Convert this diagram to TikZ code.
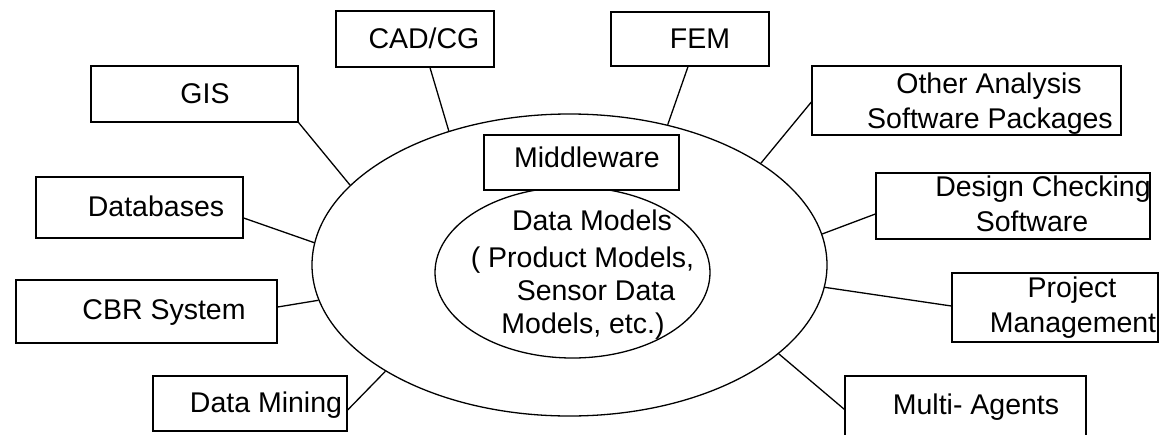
\documentclass[tikz,border=0pt]{standalone}
\usepackage{fontspec}
\setmainfont{Liberation Sans}
\usetikzlibrary{shapes.geometric}
\begin{document}
\begin{tikzpicture}[x=1pt,y=-1pt,
  every node/.style={line width=1.3pt},
  box/.style={draw, rectangle, inner sep=0pt, line width=1.3pt},
  oval/.style={draw, ellipse, inner sep=0pt, line width=1.3pt},
  txt/.style={anchor=base, inner sep=0pt, font=\fontsize{28.5pt}{34pt}\selectfont},
  link/.style={line width=1.3pt}]
\useasboundingbox (0,0) rectangle (1162,434);
\fill[white] (0,0) rectangle (1162,434);
\clip (0,0) rectangle (1162,434);

% central ellipses
\node[oval, minimum width=515pt, minimum height=302pt] (outer) at (569.5,265) {};
\node[oval, minimum width=275pt, minimum height=171pt] (inner) at (572.5,272.5) {};
\node[txt] (t-dm1) at (592,230) {Data Models};
\node[txt] (t-dm2) at (582.5,267) {( Product Models,};
\node[txt] (t-dm3) at (596,300) {Sensor Data};
\node[txt] (t-dm4) at (583,333) {Models, etc.)};

% middleware
\node[box, fill=white, minimum width=195pt, minimum height=55pt] (mw) at (581.5,162.5) {};
\node[txt] (t-mw) at (587,167) {Middleware};

% surrounding boxes
\node[box, minimum width=158pt, minimum height=56pt] (cad) at (415,39) {};
\node[txt] (t-cad) at (424,48) {CAD/CG};
\node[box, minimum width=158pt, minimum height=54pt] (fem) at (690,39) {};
\node[txt] (t-fem) at (700,48) {FEM};
\node[box, minimum width=207pt, minimum height=56pt] (gis) at (194.5,94) {};
\node[txt] (t-gis) at (205,103) {GIS};
\node[box, minimum width=309pt, minimum height=69pt] (other) at (966.5,100.5) {};
\node[txt] (t-other1) at (989,93) {Other Analysis};
\node[txt] (t-other2) at (990,128) {Software Packages};
\node[box, minimum width=207pt, minimum height=61pt] (db) at (139.5,207.5) {};
\node[txt] (t-db) at (156,216) {Databases};
\node[box, minimum width=274pt, minimum height=66pt] (design) at (1013,206) {};
\node[txt] (t-design1) at (1043,196) {Design Checking};
\node[txt] (t-design2) at (1032,231) {Software};
\node[box, minimum width=261pt, minimum height=63pt] (cbr) at (146.5,311.5) {};
\node[txt] (t-cbr) at (164,319) {CBR System};
\node[box, minimum width=206pt, minimum height=69pt] (pm) at (1055,307.5) {};
\node[txt] (t-pm1) at (1072,297) {Project};
\node[txt] (t-pm2) at (1073,332) {Management};
\node[box, minimum width=194pt, minimum height=55pt] (dmin) at (250,403.5) {};
\node[txt] (t-dmin) at (266,412) {Data Mining};
\node[box, minimum width=241pt, minimum height=74pt] (ma) at (965.5,413) {};
\node[txt] (t-ma) at (976,414) {Multi- Agents};

% connectors
\draw[link] ([xshift=15pt]cad.south) -- (outer.132.4);
\draw[link] (gis.south east) -- (outer.160.8);
\draw[link] ([yshift=-10.5pt]db.east) -- (outer.175.5);
\draw[link] ([yshift=4.5pt]cbr.east) -- (outer.188.2);
\draw[link] ([yshift=-6.5pt]dmin.east) -- (outer.210.4);
\draw[link] ([xshift=-2pt]fem.south) -- (outer.55.7);
\draw[link] ([yshift=-1.5pt]other.west) -- (outer.28.5);
\draw[link] ([yshift=-8pt]design.west) -- (outer.7.7);
\draw[link] ([yshift=1.5pt]pm.west) -- (outer.-5.8);
\draw[link] ([yshift=-34pt]ma.north west) -- (outer.-23.7);
\end{tikzpicture}
\end{document}
